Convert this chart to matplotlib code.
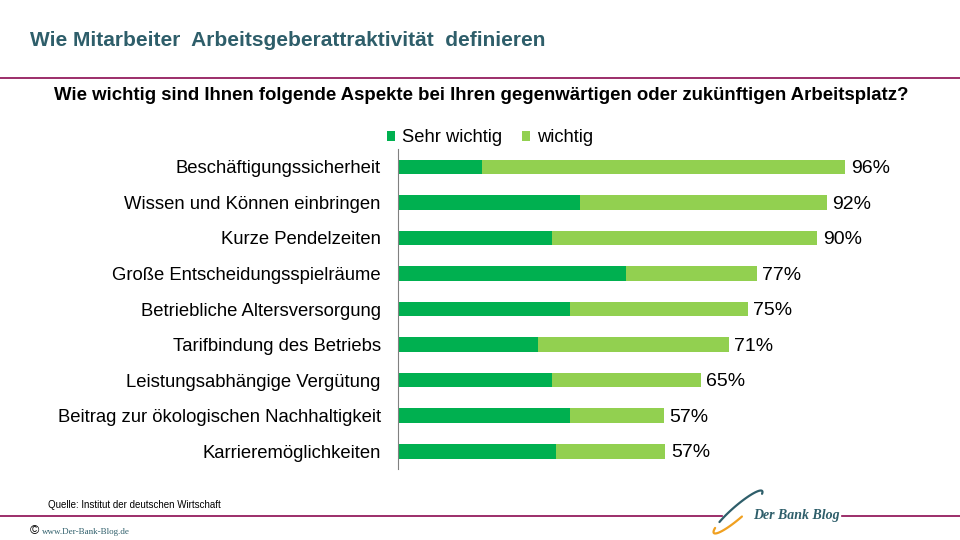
import numpy as np
import matplotlib.pyplot as plt

# Daten
kategorien = [
    "Beschäftigungssicherheit",
    "Wissen und Können einbringen",
    "Kurze Pendelzeiten",
    "Große Entscheidungsspielräume",
    "Betriebliche Altersversorgung",
    "Tarifbindung des Betriebs",
    "Leistungsabhängige Vergütung",
    "Beitrag zur ökologischen Nachhaltigkeit",
    "Karrieremöglichkeiten",
]
sehr_wichtig = [18, 39, 33, 49, 37, 30, 33, 37, 34]
wichtig = [78, 53, 57, 28, 38, 41, 32, 20, 23.4]
serien = ["Sehr wichtig", "wichtig"]

c_dunkel = "#00B050"
c_hell = "#92D050"
c_lila = "#8B0A50"
c_titel = "#2E5E6A"

plt.rcParams['font.family'] = ['Liberation Sans', 'DejaVu Sans']

fig = plt.figure(figsize=(9.6, 5.4), dpi=100)
ax = fig.add_axes([0.4146, 0.1315, 0.4854, 0.5925])

y = np.arange(len(kategorien))
sw = np.array(sehr_wichtig)
w = np.array(wichtig)
ax.barh(y, sw, height=0.41, color=c_dunkel, label=serien[0])
ax.barh(y, w, left=sw, height=0.41, color=c_hell, label=serien[1])

for yi, tot in zip(y, sw + w):
    ax.text(tot + 1.2, yi + 0.05, f"{tot:.0f}%", va="center", ha="left", fontsize=14)

ax.set_xlim(0, 100)
ax.set_ylim(len(kategorien) - 0.5, -0.5)
ax.set_yticks(y)
ax.set_yticklabels(kategorien, fontsize=13.3)
ax.tick_params(axis="y", length=0, pad=12.5)
ax.set_xticks([])
for s in ["top", "right", "bottom"]:
    ax.spines[s].set_visible(False)
ax.spines["left"].set_color("#808080")

fig.legend(*ax.get_legend_handles_labels(), loc="center left",
           bbox_to_anchor=(387 / 960, 1 - 138 / 540), ncol=2, frameon=False,
           fontsize=13.2, handlelength=0.45, handleheight=0.45, handletextpad=0.35,
           columnspacing=1.1, borderaxespad=0, borderpad=0)

# Kopf
fig.text(30 / 960, 1 - 40 / 540, "Wie Mitarbeiter  Arbeitsgeberattraktivität  definieren",
         fontsize=15, fontweight="bold", color=c_titel, va="center", ha="left")
fig.add_artist(plt.Line2D([0, 1], [1 - 78 / 540] * 2, color=c_lila, lw=1.2))
fig.text(481 / 960, 1 - 96 / 540,
         "Wie wichtig sind Ihnen folgende Aspekte bei Ihren gegenwärtigen oder zukünftigen Arbeitsplatz?",
         fontsize=13.4, fontweight="bold", va="center", ha="center")

# Fuß
fig.text(48 / 960, 1 - 505 / 540, "Quelle: Institut der deutschen Wirtschaft", fontsize=7,
         va="center", ha="left")
fig.add_artist(plt.Line2D([0, 722 / 960], [1 - 516 / 540] * 2, color=c_lila, lw=1.2))
fig.add_artist(plt.Line2D([842 / 960, 1], [1 - 516 / 540] * 2, color=c_lila, lw=1.2))
fig.text(753 / 960, 1 - 515 / 540, "Der Bank Blog", fontsize=10, fontstyle="italic",
         fontweight="bold", color=c_titel, va="center", ha="left",
         family=['Liberation Serif', 'DejaVu Serif'])

# Logo-Schwung (Ellipse, schräg)
deko = fig.add_axes([0, 0, 1, 1], facecolor="none")
deko.set_xlim(0, 960)
deko.set_ylim(540, 0)
deko.axis("off")
mitte = np.array([738.0, 512.0])
u = np.array([46.0, -40.0]); u /= np.linalg.norm(u)
v = np.array([u[1], -u[0]])
def bogen(t0, t1):
    t = np.radians(np.linspace(t0, t1, 60))
    p = mitte + 32 * np.cos(t)[:, None] * u + 6 * np.sin(t)[:, None] * v
    return p[:, 0], p[:, 1]
deko.plot(*bogen(-20, 130), color="#2E5E6A", lw=1.6, solid_capstyle="round")
deko.plot(*bogen(150, 270), color="#F0A020", lw=1.6, solid_capstyle="round")

fig.text(30 / 960, 1 - 531 / 540, "©", fontsize=9, va="center", ha="left")
fig.text(42 / 960, 1 - 532 / 540, "www.Der-Bank-Blog.de", fontsize=6.5, va="center",
         ha="left", color=c_titel, family=['Liberation Serif', 'DejaVu Serif'])

fig.savefig("out.png", dpi=100)
